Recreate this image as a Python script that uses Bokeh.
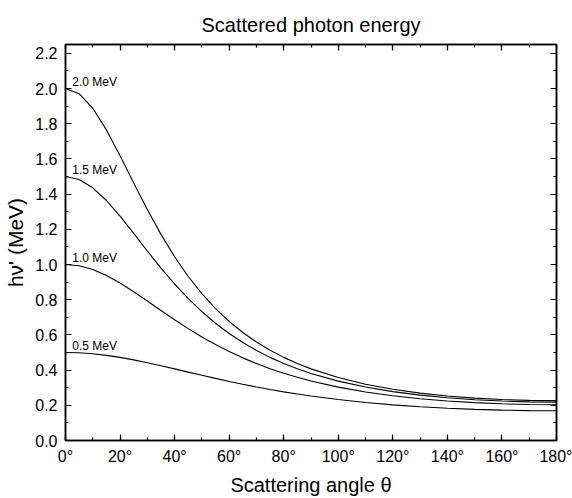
from bokeh.plotting import figure
from bokeh.models import (Range1d, LinearAxis, SingleIntervalTicker, CustomJSTickFormatter,
                          NumeralTickFormatter, ColumnDataSource)
from bokeh.core.properties import value
from bokeh.embed import file_html
from bokeh.resources import INLINE

# Scattering angle (degrees)
angles = [0, 5, 10, 15, 20, 25, 30, 35, 40, 45, 50, 55, 60, 65, 70, 75, 80, 85, 90,
          100, 110, 120, 130, 140, 150, 160, 170, 180]
# Scattered photon energy (MeV) for each incident energy
e05 = [0.500, 0.4982, 0.4927, 0.4839, 0.4721, 0.4580, 0.4420, 0.4248, 0.4068, 0.3886,
       0.3705, 0.3528, 0.3357, 0.3195, 0.3042, 0.2898, 0.2765, 0.2641, 0.2527,
       0.2327, 0.2162, 0.2026, 0.1918, 0.1833, 0.1769, 0.1725, 0.1699, 0.1691]
e10 = [1.000, 0.9926, 0.9711, 0.9375, 0.8945, 0.8451, 0.7923, 0.7386, 0.6859, 0.6357,
       0.5886, 0.5451, 0.5054, 0.4695, 0.4371, 0.4081, 0.3821, 0.3589, 0.3382,
       0.3033, 0.2758, 0.2541, 0.2372, 0.2244, 0.2150, 0.2085, 0.2047, 0.2035]
e15 = [1.500, 1.4834, 1.4359, 1.3636, 1.2744, 1.1765, 1.0765, 0.9798, 0.8892, 0.8066,
       0.7322, 0.6662, 0.6079, 0.5566, 0.5117, 0.4723, 0.4379, 0.4077, 0.3812,
       0.3375, 0.3037, 0.2776, 0.2576, 0.2426, 0.2316, 0.2241, 0.2197, 0.2183]
e20 = [2.000, 1.9707, 1.8877, 1.7647, 1.6181, 1.4634, 1.3119, 1.1711, 1.0439, 0.9318,
       0.8340, 0.7494, 0.6764, 0.6135, 0.5594, 0.5127, 0.4723, 0.4374, 0.4070,
       0.3576, 0.3199, 0.2911, 0.2692, 0.2528, 0.2409, 0.2328, 0.2281, 0.2266]
incident = [0.5, 1.0, 1.5, 2.0]
series = [e05, e10, e15, e20]

FONT = "Liberation Sans"

p = figure(width=572, height=498, output_backend="svg", toolbar_location=None,
           x_range=Range1d(0, 180), y_range=Range1d(0, 2.25),
           title="Scattered photon energy",
           min_border_left=65, min_border_right=16, min_border_top=44, min_border_bottom=58)
p.xaxis.visible = False
p.yaxis.visible = False
p.grid.visible = False
p.background_fill_color = "white"
p.border_fill_color = "white"
p.outline_line_color = "black"
p.outline_line_width = 1.5

p.title.align = "center"
p.title.text_font = FONT
p.title.text_font_size = "20px"
p.title.text_font_style = "normal"
p.title.text_color = "black"
p.title.offset = 0
p.title.standoff = 17


def style_axis(ax):
    ax.axis_line_color = "black"
    ax.axis_line_width = 1.5
    ax.major_tick_in = 6
    ax.major_tick_out = 0
    ax.minor_tick_in = 3
    ax.minor_tick_out = 0
    ax.major_tick_line_width = 1.2
    ax.minor_tick_line_width = 1.2
    ax.major_tick_line_color = "black"
    ax.minor_tick_line_color = "black"
    ax.major_label_text_font = FONT
    ax.major_label_text_font_size = "16px"
    ax.major_label_text_color = "black"
    ax.axis_label_text_font = FONT
    ax.axis_label_text_font_size = "20px"
    ax.axis_label_text_font_style = "normal"
    ax.axis_label_text_color = "black"


xt = lambda: SingleIntervalTicker(interval=20, num_minor_ticks=2)
yt = lambda: SingleIntervalTicker(interval=0.2, num_minor_ticks=2)
blank = lambda: CustomJSTickFormatter(code="return ''")

bottom = LinearAxis(ticker=xt(), formatter=CustomJSTickFormatter(code="return tick.toFixed(0) + '\u00b0'"),
                    axis_label="Scattering angle \u03b8")
style_axis(bottom)
bottom.major_label_standoff = 7
bottom.axis_label_standoff = 6
p.add_layout(bottom, "below")

left = LinearAxis(ticker=yt(), formatter=NumeralTickFormatter(format="0.0"),
                  axis_label="h\u03bd' (MeV)")
style_axis(left)
left.axis_label_text_font_size = "21px"
left.major_label_standoff = 8
left.axis_label_standoff = 5
p.add_layout(left, "left")

top = LinearAxis(ticker=xt(), formatter=blank())
style_axis(top)
top.major_label_standoff = 0
p.add_layout(top, "above")

right = LinearAxis(ticker=yt(), formatter=blank())
style_axis(right)
right.major_label_standoff = 0
p.add_layout(right, "right")

for e, ys in zip(incident, series):
    p.line(angles, ys, line_color="black", line_width=1.1)

lab = ColumnDataSource(dict(
    x=[angles[0] + 2.5 for _ in incident],
    y=[e + 0.035 for e in incident],
    t=[f"{e:.1f} MeV" for e in incident],
))
p.text(x="x", y="y", text="t", source=lab, text_font=value(FONT), text_font_size="12px",
       text_color="black", text_baseline="alphabetic", text_align="left")

open("out.html", "w").write(file_html(p, INLINE))
